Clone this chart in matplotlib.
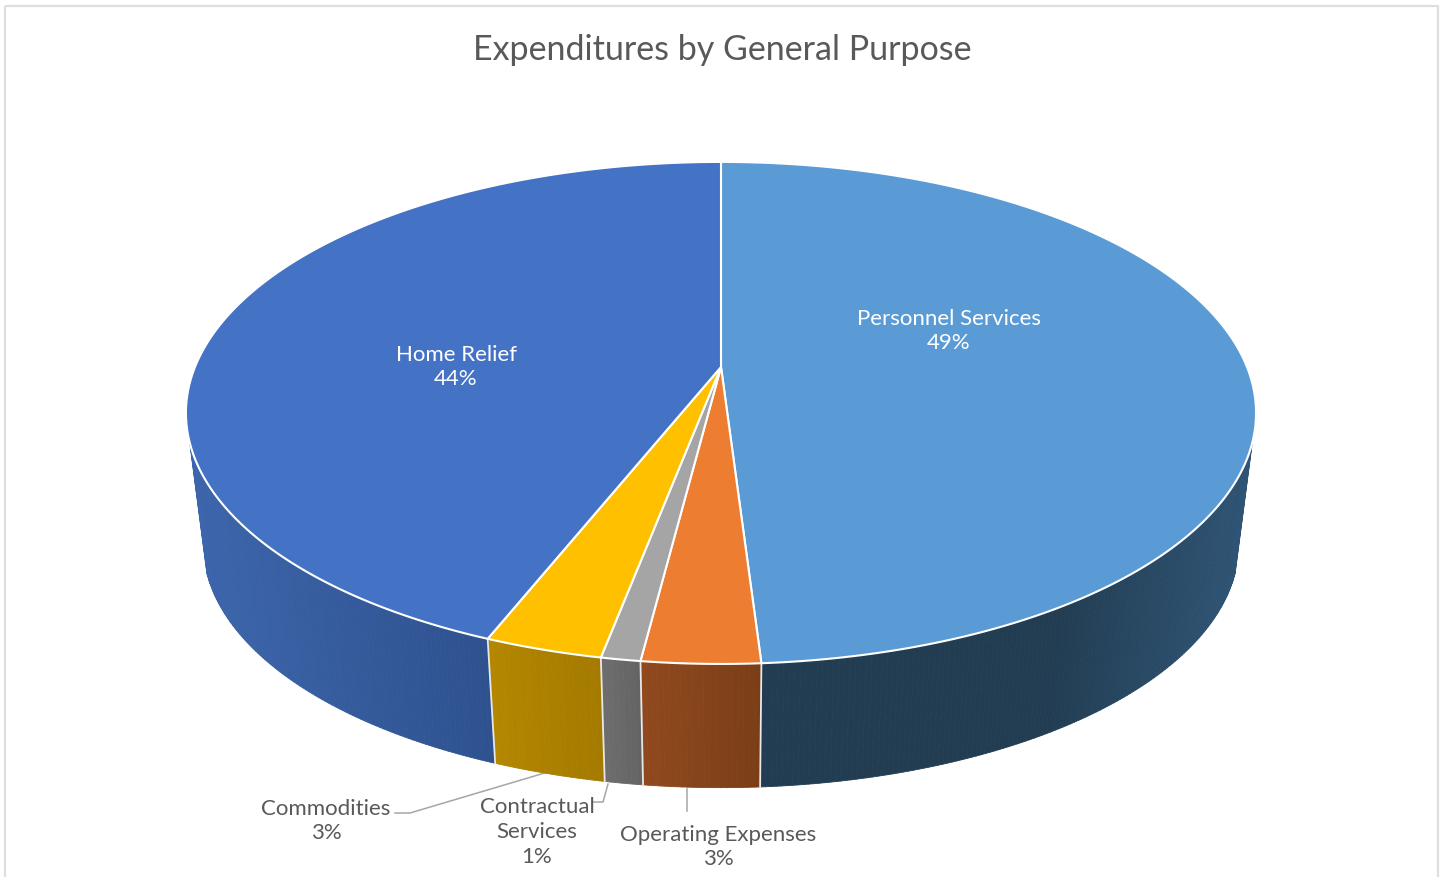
import numpy as np
import matplotlib.pyplot as plt
from matplotlib.collections import PolyCollection
from matplotlib.colors import to_rgb
from matplotlib.patches import Rectangle

plt.rcParams['font.family'] = ['Lato', 'DejaVu Sans']

# Slices run clockwise from twelve o'clock
categories = ['Personnel Services', 'Operating Expenses', 'Contractual\nServices', 'Commodities', 'Home Relief']
shares = [49, 3, 1, 3, 44]
top_colors = ['#5B9BD5', '#ED7D31', '#A5A5A5', '#FFC000', '#4472C4']
wall_left = ['#2F5475', '#91491E', '#6E6E6E', '#B48700', '#3C65AB']
wall_right = ['#223D52', '#7A3E17', '#636363', '#A37A00', '#2E518E']

label_pos = [(949, 331), (718, 847), (537, 832), (326, 821), (456, 367)]
label_colors = ['white', '#595959', '#595959', '#595959', 'white']
leaders = [
    [(687, 790), (687, 812)],
    [(608, 785), (603, 803), (593, 803)],
    [(548, 773), (410, 814), (395, 814)],
]

# Perspective of the disc: top face, then the smaller bottom face
cx = 721
tilt = 0.183
top_face = dict(y0=368, qx=526, py=242.6)
bottom_face = dict(y0=501, qx=509, py=235)
wall_from, wall_to = 107.0, 253.0


def project(theta, face):
    t = np.radians(theta)
    u, v = np.sin(t), np.cos(t)
    d = 1 + tilt * v
    return cx + face['qx'] * u / d, face['y0'] - face['py'] * v / d


def arc(a, b, face):
    n = max(int(abs(b - a) * 3), 2)
    x, y = project(np.linspace(a, b, n), face)
    return np.column_stack([x, y])


fig = plt.figure(figsize=(14.45, 8.78), dpi=100)
ax = fig.add_axes([0, 0, 1, 1])
ax.set_xlim(0, 1445)
ax.set_ylim(878, 0)
ax.axis('off')

ax.add_patch(Rectangle((5, 7), 1433, 900, fill=False, ec='#DEDEDE', lw=1.6, zorder=1))

for line in leaders:
    xs, ys = zip(*line)
    ax.plot(xs, ys, color='#A6A6A6', lw=1.1, zorder=2)

edges = np.concatenate([[0], np.cumsum(shares)]) * 3.6

# Side walls, cut into thin strips for the left-to-right shading
for i in range(len(shares)):
    a, b = max(edges[i], wall_from), min(edges[i + 1], wall_to)
    if a >= b:
        continue
    ths = np.linspace(a, b, max(int((b - a) * 2), 2) + 1)
    xt, yt = project(ths, top_face)
    xb, yb = project(ths, bottom_face)
    xmin, xmax = min(xt.min(), xb.min()), max(xt.max(), xb.max())
    polys, colors = [], []
    c0, c1 = np.array(to_rgb(wall_left[i])), np.array(to_rgb(wall_right[i]))
    for j in range(len(ths) - 1):
        polys.append([(xt[j], yt[j]), (xt[j + 1], yt[j + 1]), (xb[j + 1], yb[j + 1]), (xb[j], yb[j])])
        mid = (xt[j] + xt[j + 1]) / 2
        f = (mid - xmin) / (xmax - xmin)
        if i == 0:
            f = min(1, (1 - f) / 0.4)
        colors.append(c0 + (c1 - c0) * f)
    ax.add_collection(PolyCollection(polys, facecolors=colors, edgecolors=colors, linewidths=0.6, zorder=3))

# Dividers between the walls
for e in edges[1:-1]:
    xt, yt = project(e, top_face)
    xb, yb = project(e, bottom_face)
    ax.plot([xt, xb], [yt, yb], color='#E8E8E8', lw=1.3, zorder=4)

# Top face
apex = (cx, top_face['y0'])
for i in range(len(shares)):
    pts = np.vstack([[apex], arc(edges[i], edges[i + 1], top_face)])
    ax.fill(pts[:, 0], pts[:, 1], fc=top_colors[i], ec='white', lw=1.5, joinstyle='round', zorder=5)

ax.text(722, 50, 'Expenditures by General Purpose', color='#595959', fontsize=24.5,
        ha='center', va='center', zorder=6)

for name, share, pos, col in zip(categories, shares, label_pos, label_colors):
    ax.text(pos[0], pos[1], f'{name}\n{share}%', color=col, fontsize=16, ha='center',
            va='center', linespacing=1.3, zorder=6)

fig.savefig('out.png', dpi=100, facecolor='white')
